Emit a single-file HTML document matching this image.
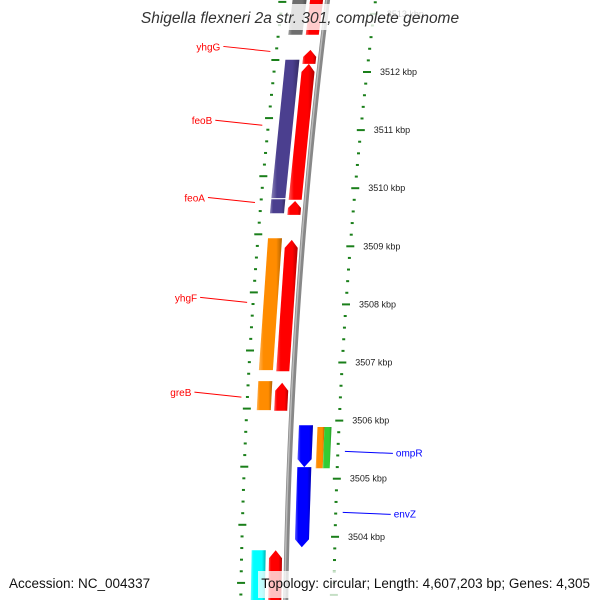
<!DOCTYPE html>
<html><head><meta charset="utf-8"><style>
html,body{margin:0;background:#fff;overflow:hidden;width:600px;height:600px}
svg{display:block}
text{font-family:"Liberation Sans","DejaVu Sans",sans-serif}
</style></head><body>
<svg id="map" width="600" height="600" viewBox="0 0 600 600" xmlns="http://www.w3.org/2000/svg">
<defs>
<linearGradient id="shade" x1="0" x2="1" y1="0" y2="0">
<stop offset="0" stop-color="#fff" stop-opacity="0.35"/>
<stop offset="0.2" stop-color="#fff" stop-opacity="0"/>
<stop offset="0.75" stop-color="#000" stop-opacity="0"/>
<stop offset="1" stop-color="#000" stop-opacity="0.3"/>
</linearGradient>
</defs>
<g id="backbone-layer"></g>
<g id="ticks"></g>
<g id="genes"></g>
<g id="labels"></g>
<rect x="136" y="4" width="328" height="26" fill="#fff" opacity="0.8"/>
<text x="300" y="23" text-anchor="middle" font-size="15.5" font-style="italic" fill="#333">Shigella flexneri 2a str. 301, complete genome</text>
<text x="9" y="588" font-size="13.5" fill="#111">Accession: NC_004337</text>
<rect x="258" y="571" width="338" height="27" fill="#fff" opacity="0.75"/>
<text x="590" y="588" text-anchor="end" font-size="13.5" fill="#111">Topology: circular; Length: 4,607,203 bp; Genes: 4,305</text>
</svg>
<script>
// data
const geneNames = ["top-gray","top-red","yhgG","feoB-cog","feoB","feoA-cog","feoA","yhgF-cog","yhgF","greB-cog","greB","ompR","ompR-cog-a","ompR-cog-b","envZ","bottom-cog","bottom-red"];
const geneStart = [3513.3,3513.3,3512.38,3512.21,3512.14,3509.81,3509.78,3509.14,3509.11,3506.68,3506.65,3505.92,3505.89,3505.89,3505.20,3503.77,3503.77];
const geneEnd   = [3512.64,3512.64,3512.14,3509.83,3509.80,3509.57,3509.54,3506.87,3506.85,3506.18,3506.17,3505.20,3505.18,3505.18,3503.82,3502.7,3502.7];
const geneRing  = ["cogL","rev","rev","cogL","rev","cogL","rev","cogL","rev","cogL","rev","fwd","cogRa","cogRb","fwd","cogL","rev"];
const geneColor = ["#6e6e6e","#ff0000","#ff0000","#4b3f8f","#ff0000","#4b3f8f","#ff0000","#ff8c00","#ff0000","#ff8c00","#ff0000","#0000ff","#ff8c00","#33cc33","#0000ff","#00ffff","#ff0000"];
const geneArrow = [0,0,1,0,1,0,1,0,1,0,1,1,0,0,1,0,1];
const tickKbp = [3513,3512,3511,3510,3509,3508,3507,3506,3505,3504];
const tickLabels = ["3513 kbp","3512 kbp","3511 kbp","3510 kbp","3509 kbp","3508 kbp","3507 kbp","3506 kbp","3505 kbp","3504 kbp"];
const leftLabels = ["yhgG","feoB","feoA","yhgF","greB"];
const leftLabelKbp = [3512.44,3511.17,3509.84,3508.12,3506.49];
const rightLabels = ["ompR","envZ"];
const rightLabelKbp = [3505.47,3504.42];

const NS="http://www.w3.org/2000/svg";
function yOf(k){return 72+(3512-k)*58.1;}
function xb(y){const t=y-72;return 319-0.112*t+0.000093*t*t;}
const ringOff={rev:-11,cogL:-28,fwd:15,cogRa:30,cogRb:37};
const ringW={rev:13,cogL:14,fwd:14,cogRa:7,cogRb:7};
function mk(tag,attrs,parent){const e=document.createElementNS(NS,tag);for(const k in attrs)e.setAttribute(k,attrs[k]);parent.appendChild(e);return e;}

// backbone
const bb=document.getElementById('backbone-layer');
let d="";for(let y=-5;y<=600;y+=5)d+=(y<0?"M":"L")+xb(y).toFixed(2)+","+y;
const bbl=mk('path',{d:d,stroke:'#888',"stroke-width":5,fill:'none'},bb);


const bbh=mk('path',{d:d,stroke:'#bbb',"stroke-width":1.5,fill:'none',transform:'translate(-1,0)'},bb);



// ticks
const tg=document.getElementById('ticks');
for(let k=3514;k>=3502;k-=0.2){
  const kk=Math.round(k*10)/10;const major=Math.abs(kk-Math.round(kk))<0.01;
  const y=yOf(kk);
  if(y>-10&&y<600){
  const xr=xb(y)+48;
  const r=mk('line',{x1:xr-(major?4:1.5),x2:xr+(major?4:1.5),y1:y,y2:y,stroke:'#1a7f1a',"stroke-width":2},tg);
  
  
  }
  const y2=y-12;
  if(y2>-10&&y2<600){
  const xl=xb(y2)-45;
  const l=mk('line',{x1:xl-(major?4:1.5),x2:xl+(major?4:1.5),y1:y2,y2:y2,stroke:'#1a7f1a',"stroke-width":2},tg);
  
  
  }
}
tickKbp.forEach((k,i)=>{const y=yOf(k);
  const t=mk('text',{x:xb(y)+61,y:y+3,"font-size":9,fill:'#222'},tg);t.textContent=tickLabels[i];
  
  });

// genes
const gg=document.getElementById('genes');
geneNames.forEach((n,i)=>{
  const r=geneRing[i];const y1=yOf(geneStart[i]),y2=yOf(geneEnd[i]);
  const top=Math.max(-5,Math.min(y1,y2)),bot=Math.min(600,Math.max(y1,y2));
  const o=ringOff[r],w=ringW[r];
  const L=y=>xb(y)+o-w/2,R=y=>xb(y)+o+w/2;
  let pts;
  if(geneArrow[i]&&r==='rev'){const h=Math.min(8,(bot-top)*0.5);const ym=top+h;
    pts=[[L(bot),bot],[L(ym),ym],[(L(top)+R(top))/2,top],[R(ym),ym],[R(bot),bot]];}
  else if(geneArrow[i]&&r==='fwd'){const h=Math.min(8,(bot-top)*0.5);const ym=bot-h;
    pts=[[L(top),top],[L(ym),ym],[(L(bot)+R(bot))/2,bot],[R(ym),ym],[R(top),top]];}
  else pts=[[L(top),top],[L(bot),bot],[R(bot),bot],[R(top),top]];
  const p=pts.map(q=>q[0].toFixed(1)+","+q[1].toFixed(1)).join(" ");
  const g=mk('g',{},gg);
  
  
  mk('polygon',{points:p,fill:geneColor[i]},g);
  mk('polygon',{points:p,fill:'url(#shade)'},g);
});

// labels
const lg=document.getElementById('labels');
leftLabels.forEach((s,i)=>{const y=yOf(leftLabelKbp[i]);const x2=xb(y+5)-51;
  const ln=mk('line',{x1:x2-47,y1:y,x2:x2,y2:y+5,stroke:'#f00',"stroke-width":1},lg);
  
  
  const t=mk('text',{x:x2-50,y:y+4,"font-size":10,fill:'#f00',"text-anchor":'end'},lg);t.textContent=s;
  
  });
rightLabels.forEach((s,i)=>{const y=yOf(rightLabelKbp[i]);const x1=xb(y)+55;
  const ln=mk('line',{x1:x1,y1:y,x2:x1+48,y2:y+2,stroke:'#00f',"stroke-width":1},lg);
  
  
  const t=mk('text',{x:x1+51,y:y+5,"font-size":10,fill:'#00f'},lg);t.textContent=s;
  
  });
</script>
</body></html>
